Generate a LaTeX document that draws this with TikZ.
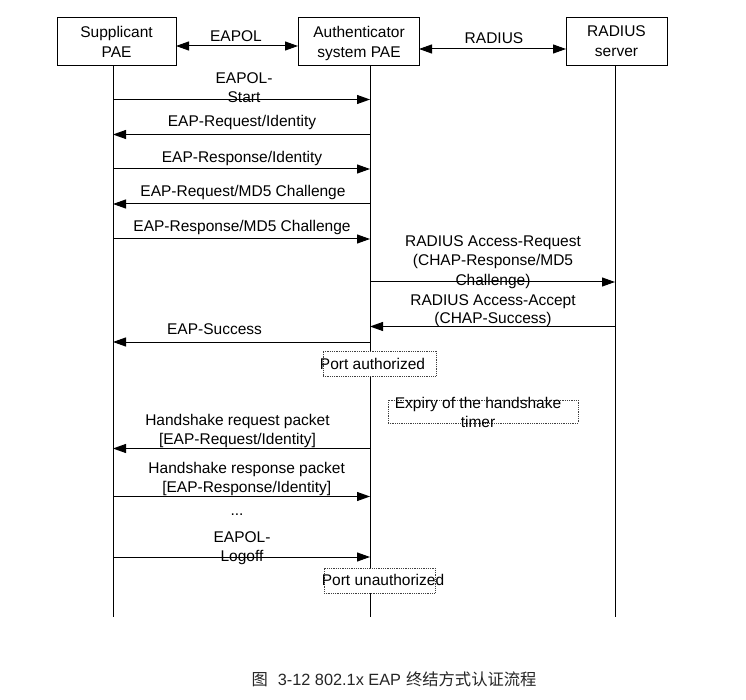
\documentclass[tikz,border=0pt]{standalone}
\usepackage{fontspec}
\setmainfont{Liberation Sans}
\newfontfamily\cjk{Noto Sans CJK SC}
\usetikzlibrary{arrows.meta}
\begin{document}
\begin{tikzpicture}[x=1pt,y=-1pt,
  every node/.style={font=\fontsize{15.5}{19.5}\selectfont, inner sep=0pt, outer sep=0pt},
  actor/.style={draw, line width=1pt, minimum height=48pt},
  lbl/.style={anchor=base, align=center},
  life/.style={line width=1pt},
  tip/.tip={Triangle[length=13pt,width=9pt]},
  msg/.style={line width=1pt, -tip},
  dbl/.style={line width=1pt, tip-tip},
  dotbox/.style={draw=black!75, densely dotted, line width=0.8pt},
]
\useasboundingbox[fill=white] (0,0) rectangle (746,700);

% actors
\node[actor, minimum width=119pt] (sup) at (116.5,42) {};
\node[actor, minimum width=121pt] (auth) at (358.5,42) {};
\node[actor, minimum width=101pt] (rad) at (616.5,42) {};
\node[lbl] (supT) at (116.5,57.5) {Supplicant\\[0.5pt]PAE};
\node[lbl] (authT) at (359,57.5) {Authenticator\\[0.5pt]system PAE};
\node[lbl] (radT) at (616.5,57) {RADIUS\\[0.5pt]server};

% top links
\draw[dbl] ([yshift=-4pt]sup.east) -- ([yshift=-4pt]auth.west);
\node[lbl] (eapol) at (236,41.7) {EAPOL};
\draw[dbl] ([yshift=-7pt]auth.east) -- ([yshift=-7pt]rad.west);
\node[lbl] (radius) at (494,43.3) {RADIUS};

% lifeline coordinates
\foreach \n/\y in {1/99.5,2/134.5,3/169,4/204,5/239,6/282,7/326.5,8/342,9/448.5,10/496.5,11/557}{
  \coordinate (S\n) at (113,\y);
  \coordinate (A\n) at (370,\y);
  \coordinate (R\n) at (615,\y);
}
\coordinate (Send) at (113,617);
\coordinate (Aend) at (370,617);
\coordinate (Rend) at (615,617);

% lifelines
\draw[life] (S1 |- sup.south) -- (Send);
\draw[life] (A1 |- auth.south) -- (Aend);
\draw[life] (R1 |- rad.south) -- (Rend);

% messages
\draw[msg] (S1) -- (A1);
\node[lbl] (m1) at (244,102.5) {EAPOL-\\[-0.5pt]Start};
\draw[msg] (A2) -- (S2);
\node[lbl] (m2) at (242,127) {EAP-Request/Identity};
\draw[msg] (S3) -- (A3);
\node[lbl] (m3) at (242,162.5) {EAP-Response/Identity};
\draw[msg] (A4) -- (S4);
\node[lbl] (m4) at (243,196.5) {EAP-Request/MD5 Challenge};
\draw[msg] (S5) -- (A5);
\node[lbl] (m5) at (242,231.5) {EAP-Response/MD5 Challenge};
\draw[msg] (A6) -- (R6);
\node[lbl] (m6) at (493,285.5) {RADIUS Access-Request\\(CHAP-Response/MD5\\Challenge)};
\draw[msg] (R7) -- (A7);
\node[lbl] (m7) at (493,323.5) {RADIUS Access-Accept\\[-1pt](CHAP-Success)};
\draw[msg] (A8) -- (S8);
\node[lbl] (m8) at (214.5,334.5) {EAP-Success};

% port authorized
\node[dotbox, fill=white, minimum width=113pt, minimum height=25pt] (pa) at (379.5,363.5) {};
\node[lbl] (paT) at (372.5,369.5) {Port authorized};

% expiry
\node[dotbox, minimum width=190pt, minimum height=23pt] (ex) at (483,411.5) {};
\node[lbl] (exT) at (478,427.2) {Expiry of the handshake\\[-0.5pt]timer};

% handshake
\draw[msg] (A9) -- (S9);
\node[lbl] (m9) at (237.5,444.5) {Handshake request packet\\[-0.5pt][EAP-Request/Identity]};
\draw[msg] (S10) -- (A10);
\node[lbl] (m10) at (246.7,492.5) {Handshake response packet\\[-0.5pt][EAP-Response/Identity]};
\node[lbl] (dots) at (237,515) {...};
\draw[msg] (S11) -- (A11);
\node[lbl] (m11) at (242,561.5) {EAPOL-\\[-0.5pt]Logoff};

% port unauthorized
\node[dotbox, fill=white, minimum width=111pt, minimum height=25pt] (pu) at (379.5,580.5) {};
\node[lbl] (puT) at (383,585.5) {Port unauthorized};

% caption
\node[lbl, font=\fontsize{16.3}{19}\selectfont, text=black!85] (cap) at (394,685)
  {{\cjk 图}\hspace{10pt}3-12 802.1x EAP\hspace{5pt}{\cjk 终结方式认证流程}};
\end{tikzpicture}
\end{document}
